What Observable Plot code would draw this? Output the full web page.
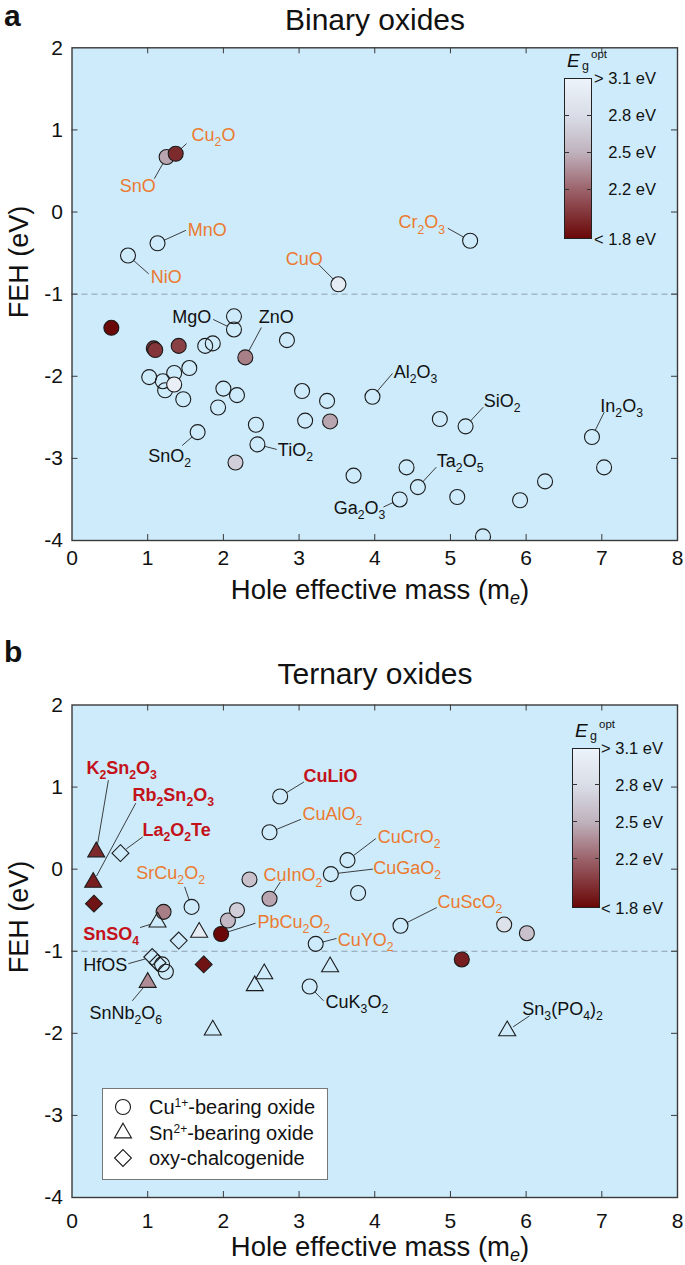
<!DOCTYPE html>
<html><head><meta charset="utf-8">
<script src="https://cdn.jsdelivr.net/npm/d3@7"></script>
<script src="https://cdn.jsdelivr.net/npm/@observablehq/plot@0.6"></script>
<style>
body{margin:0;background:#fff;font-family:"Liberation Sans",Arial,sans-serif;color:#111}
#fig{position:relative;width:685px;height:1265px;overflow:hidden}
.abs{position:absolute;white-space:nowrap;line-height:1}
</style></head><body><div id="fig"></div>
<script>
// ---------- shared scales / ticks ----------
const xTicks = [0,1,2,3,4,5,6,7,8];
const yTicks = [-4,-3,-2,-1,0,1,2];
const xInner = [1,2,3,4,5,6,7];
const yInner = [-3,-2,-1,0,1];
const egStops = [1.8,2.2,2.5,2.8,3.1];
const egColors = ["#6a0707","#9c646c","#bfb2bd","#d9dde7","#edf3fa"];
const egTickLabels = ["< 1.8 eV","2.2 eV","2.5 eV","2.8 eV","> 3.1 eV"];

// ---------- panel a: binary oxides ----------
const binMass = [1.25,1.37,1.13,0.74,3.52,5.26,0.52,1.08,1.10,1.41,1.02,1.20,1.23,1.35,1.35,1.55,1.47,1.76,1.86,2.14,2.14,2.29,2.84,2.00,2.18,1.93,3.04,3.37,3.08,3.41,1.66,2.43,2.45,2.16,3.72,3.97,4.86,5.20,6.87,7.03,4.42,4.57,4.33,5.09,5.92,6.25,5.43];
const binFEH  = [0.67,0.71,-0.38,-0.53,-0.88,-0.35,-1.41,-1.66,-1.68,-1.63,-2.01,-2.06,-2.17,-1.96,-2.10,-1.90,-2.28,-1.63,-1.60,-1.27,-1.43,-1.77,-1.56,-2.15,-2.23,-2.38,-2.18,-2.30,-2.54,-2.55,-2.68,-2.59,-2.83,-3.05,-3.21,-2.25,-2.52,-2.61,-2.74,-3.11,-3.11,-3.35,-3.50,-3.47,-3.51,-3.28,-3.95];
const binEg   = [2.45,1.95,null,null,3.0,null,1.8,2.0,2.0,2.05,null,null,null,null,3.05,null,null,null,null,null,null,2.3,null,null,null,null,null,null,null,2.45,null,null,null,2.7,null,null,null,null,null,null,null,null,null,null,null,null,null];
const binShape = binMass.map(() => "circle");

const binLabText   = ["Cu_2O","SnO","MnO","NiO","CuO","Cr_2O_3","MgO","ZnO","SnO_2","TiO_2","Al_2O_3","SiO_2","In_2O_3","Ta_2O_5","Ga_2O_3"];
const binLabX      = [1.58,0.87,1.53,1.04,3.07,4.93,1.84,2.70,1.29,2.72,4.25,5.44,6.98,4.82,4.14];
const binLabY      = [0.93,0.31,-0.225,-0.80,-0.57,-0.13,-1.285,-1.285,-2.97,-2.905,-1.955,-2.30,-2.36,-3.03,-3.61];
const binLabAnchor = ["start","middle","start","start","middle","end","end","middle","middle","start","start","start","start","start","end"];
const binLabKind   = ["o","o","o","o","o","o","k","k","k","k","k","k","k","k","k"];
const binLeadX     = [1.51,1.09,1.50,1.01,3.26,4.97,1.87,2.50,1.46,2.70,4.23,5.43,7.03,4.81,4.12];
const binLeadY     = [0.83,0.41,-0.225,-0.75,-0.64,-0.20,-1.31,-1.41,-2.84,-2.89,-1.97,-2.38,-2.44,-3.11,-3.59];
const binLeadTo    = [1,0,2,3,4,5,20,21,30,32,35,37,38,41,42];

// ---------- panel b: ternary oxides ----------
const terMass = [2.75,2.61,3.64,3.42,3.78,1.58,1.21,1.97,2.06,2.18,2.345,2.61,3.22,4.34,5.71,6.01,5.15,3.14,1.19,1.24, 0.32,0.28,1.13,1.68,1.00,2.54,2.415,1.86,3.41,5.75, 0.64,0.29,1.41,1.06,1.13,1.74];
const terFEH  = [0.885,0.45,0.11,-0.06,-0.29,-0.46,-0.52,-0.79,-0.625,-0.50,-0.125,-0.36,-0.91,-0.69,-0.675,-0.78,-1.10,-1.43,-1.16,-1.25, 0.21,-0.16,-0.645,-0.77,-1.38,-1.275,-1.42,-1.96,-1.19,-1.97, 0.195,-0.42,-0.87,-1.07,-1.14,-1.16];
const terEg   = [null,null,null,null,null,null,2.3,1.8,2.55,2.7,2.6,2.45,null,null,2.85,2.6,1.9,null,null,null, 1.95,1.9,null,3.0,2.35,null,null,null,null,null, null,1.85,null,null,null,1.85];
const terShape = ["circle","circle","circle","circle","circle","circle","circle","circle","circle","circle","circle","circle","circle","circle","circle","circle","circle","circle","circle","circle",
  "triangle","triangle","triangle","triangle","triangle","triangle","triangle","triangle","triangle","triangle",
  "diamond","diamond","diamond","diamond","diamond","diamond"];

const terLabText   = ["K_2Sn_2O_3","Rb_2Sn_2O_3","La_2O_2Te","SnSO_4","SrCu_2O_2","PbCu_2O_2","CuInO_2","CuLiO","CuAlO_2","CuCrO_2","CuGaO_2","CuScO_2","CuYO_2","HfOS","SnNb_2O_6","CuK_3O_2","Sn_3(PO_4)_2"];
const terLabX      = [0.19,0.80,0.93,0.15,0.85,2.45,2.53,3.06,3.045,4.04,3.98,4.83,3.51,0.73,0.71,3.35,5.95];
const terLabY      = [1.23,0.90,0.48,-0.795,-0.05,-0.65,-0.08,1.13,0.665,0.385,0.01,-0.405,-0.87,-1.17,-1.75,-1.62,-1.71];
const terLabAnchor = ["start","start","start","start","start","start","start","start","start","start","start","start","start","end","middle","start","start"];
const terLabKind   = ["r","r","r","r","o","o","o","r","o","o","o","o","o","k","k","k","k"];
const terLeadX     = [0.48,0.84,0.93,0.905,1.49,2.42,2.75,3.06,3.02,4.01,3.97,4.815,3.49,0.75,0.80,3.32,6.04];
const terLeadY     = [1.08,0.80,0.39,-0.71,-0.22,-0.66,-0.16,1.06,0.605,0.37,0.0,-0.47,-0.845,-1.15,-1.60,-1.60,-1.79];
const terLeadTo    = [20,21,30,22,5,7,11,0,1,2,3,13,12,33,24,17,29];

// ---------- styling ----------
const FONT = '"Liberation Sans", Arial, sans-serif';
const BG = "#cdebfb";
const AX = "#3a3a3a";
const ORANGE = "#eb7a30", RED = "#c4121a", BLACK = "#111";
const W = 685, ML = 71.5, MR = 8;
const SYM = {circle: "circle", triangle: "triangle", diamond: "diamond2"};
const RAD = {circle: 7.5, triangle: 6.3, diamond: 7.6};
const KIND = {o: {fill: ORANGE, w: "normal"}, r: {fill: RED, w: "bold"}, k: {fill: BLACK, w: "normal"}};

const fig = document.getElementById("fig");

function richify(svg, fs) {
  const NS = "http://www.w3.org/2000/svg";
  svg.querySelectorAll("text").forEach(t => {
    const s = t.textContent;
    if (!/[_^]/.test(s)) return;
    while (t.firstChild) t.removeChild(t.firstChild);
    let shift = 0;
    const re = /([_^])(\{[^}]*\}|.)|([^_^]+)/g;
    let m;
    while ((m = re.exec(s))) {
      const ts = document.createElementNS(NS, "tspan");
      let target, txt;
      if (m[3] !== undefined) { txt = m[3]; target = 0; }
      else {
        txt = m[2].replace(/[{}]/g, "");
        target = m[1] === "_" ? 0.28 : -0.42;
        ts.setAttribute("font-size", (fs * 0.68) + "px");
      }
      const dy = (target - shift) * fs;
      if (dy) ts.setAttribute("dy", dy + "px");
      shift = target;
      ts.textContent = txt;
      t.appendChild(ts);
    }
  });
}

function makePanel(cfg) {
  const innerH = cfg.height - cfg.mt - cfg.mb;
  const innerW = W - ML - MR;
  const pts = cfg.mass.map((m, i) => ({x: m, y: cfg.feh[i], eg: cfg.eg[i], s: cfg.shape[i]}));
  const labs = cfg.labText.map((t, i) => ({
    t, x: cfg.labX[i], y: cfg.labY[i], a: cfg.labAnchor[i], k: cfg.labKind[i],
    x1: cfg.leadX[i], y1: cfg.leadY[i], x2: pts[cfg.leadTo[i]].x, y2: pts[cfg.leadTo[i]].y
  }));
  const marks = [
    Plot.frame({fill: BG, stroke: null}),
    Plot.ruleY([-1], {stroke: "#8d9fae", strokeDasharray: "6,4", strokeWidth: 1}),
    Plot.tickX(xInner, {x: d => d, insetTop: innerH - 6, stroke: AX, strokeWidth: 1}),
    Plot.tickX(xInner, {x: d => d, insetBottom: innerH - 6, stroke: AX, strokeWidth: 1}),
    Plot.tickY(yInner, {y: d => d, insetRight: innerW - 6, stroke: AX, strokeWidth: 1}),
    Plot.tickY(yInner, {y: d => d, insetLeft: innerW - 6, stroke: AX, strokeWidth: 1}),
    Plot.axisX(xTicks, {anchor: "bottom", tickSize: 0, tickPadding: cfg.xpad, fontSize: 21, tickFormat: d => String(d), label: null, fill: "#111"}),
    Plot.axisY(yTicks, {anchor: "left", tickSize: 0, tickPadding: 9, fontSize: 21, tickFormat: d => String(d), label: null, fill: "#111"}),
    Plot.arrow(labs, {x1: "x1", y1: "y1", x2: "x2", y2: "y2", headLength: 0, insetEnd: 7.5, stroke: "#2a2a2a", strokeWidth: 0.9})
  ];
  for (const sh of ["circle", "triangle", "diamond"]) {
    const open = pts.filter(p => p.s === sh && p.eg == null);
    const full = pts.filter(p => p.s === sh && p.eg != null);
    if (open.length) marks.push(Plot.dot(open, {x: "x", y: "y", r: RAD[sh], symbol: SYM[sh], fill: "none", stroke: "#1b1b1b", strokeWidth: 1.1, clip: true}));
    if (full.length) marks.push(Plot.dot(full, {x: "x", y: "y", r: RAD[sh], symbol: SYM[sh], fill: "eg", stroke: "#1b1b1b", strokeWidth: 1.1, clip: true}));
  }
  for (const k of ["o", "r", "k"]) for (const a of ["start", "middle", "end"]) {
    const d = labs.filter(l => l.k === k && l.a === a);
    if (d.length) marks.push(Plot.text(d, {x: "x", y: "y", text: "t", textAnchor: a, fontSize: 18, fill: KIND[k].fill, fontWeight: KIND[k].w}));
  }
  marks.push(Plot.frame({stroke: AX, strokeWidth: 1.4}));
  const svg = Plot.plot({
    width: W, height: cfg.height,
    marginLeft: ML, marginRight: MR, marginTop: cfg.mt, marginBottom: cfg.mb,
    x: {domain: [0, 8]}, y: {domain: [-4, 2]},
    color: {type: "linear", domain: egStops, range: egColors, clamp: true, interpolate: d3.interpolateRgb},
    style: {fontFamily: FONT, background: "none", color: "#111", overflow: "visible"},
    marks
  });
  richify(svg, 18);
  svg.style.position = "absolute";
  svg.style.left = "0px";
  svg.style.top = cfg.top + "px";
  fig.appendChild(svg);
}

function text(html, {left, center, right, baseline, size, weight = "normal", style = "normal", color = "#111"}) {
  const d = document.createElement("div");
  d.className = "abs";
  d.innerHTML = html;
  d.style.fontSize = size + "px";
  d.style.fontWeight = weight;
  d.style.fontStyle = style;
  d.style.color = color;
  d.style.top = (baseline - 0.8465 * size) + "px";
  if (left != null) d.style.left = left + "px";
  if (center != null) { d.style.left = center + "px"; d.style.transform = "translateX(-50%)"; }
  if (right != null) { d.style.right = (W - right) + "px"; }
  fig.appendChild(d);
  return d;
}

function yLabel(cx, cy) {
  const d = document.createElement("div");
  d.className = "abs";
  d.textContent = "FEH (eV)";
  d.style.fontSize = "27px";
  d.style.left = cx + "px"; d.style.top = cy + "px";
  d.style.transform = "translate(-50%,-50%) rotate(-90deg)";
  fig.appendChild(d);
}

function colorbar(left, top, w, h, labelRight) {
  const bar = document.createElement("div");
  bar.className = "abs";
  const stops = egStops.map((v, i) => `${egColors[i]} ${((v - egStops[0]) / (egStops[egStops.length - 1] - egStops[0]) * 100).toFixed(2)}%`).join(",");
  Object.assign(bar.style, {left: left + "px", top: top + "px", width: w + "px", height: h + "px",
    background: `linear-gradient(to top, ${stops})`, border: "1px solid #222", boxSizing: "border-box"});
  fig.appendChild(bar);
  const lo = egStops[0], hi = egStops[egStops.length - 1];
  egStops.forEach((v, i) => {
    const y = top + (hi - v) / (hi - lo) * h;
    if (i > 0 && i < egStops.length - 1) {
      for (const x of [left, left + w - 5]) {
        const t = document.createElement("div");
        t.className = "abs";
        Object.assign(t.style, {left: x + "px", top: (y - 0.5) + "px", width: "5px", height: "1px", background: "#333"});
        fig.appendChild(t);
      }
    }
    text(egTickLabels[i], {right: labelRight, baseline: y + 6, size: 16.5});
  });
  text('<i>E</i>', {left: left + 3, baseline: top - 11, size: 19});
  text('g', {left: left + 18, baseline: top - 7, size: 12.5});
  text('opt', {left: left + 27, baseline: top - 19, size: 11.5});
}

function legend(left, top, w, h) {
  const box = document.createElement("div");
  box.className = "abs";
  Object.assign(box.style, {left: left + "px", top: top + "px", width: w + "px", height: h + "px",
    background: "#fff", border: "1px solid #777", boxSizing: "border-box"});
  fig.appendChild(box);
  const items = [["circle", "Cu<sup style='font-size:12px;vertical-align:7px'>1+</sup>-bearing oxide"],
                 ["triangle", "Sn<sup style='font-size:12px;vertical-align:7px'>2+</sup>-bearing oxide"],
                 ["diamond", "oxy-chalcogenide"]];
  const symType = {circle: d3.symbolCircle, triangle: d3.symbolTriangle, diamond: d3.symbolDiamond2};
  items.forEach(([sh, lab], i) => {
    const cy = top + 19 + i * 25.5;
    const s = document.createElementNS("http://www.w3.org/2000/svg", "svg");
    s.setAttribute("width", 24); s.setAttribute("height", 24);
    s.style.position = "absolute"; s.style.left = (left + 21 - 12) + "px"; s.style.top = (cy - 12) + "px";
    const p = document.createElementNS("http://www.w3.org/2000/svg", "path");
    p.setAttribute("d", d3.symbol(symType[sh], RAD[sh] * RAD[sh] * Math.PI)());
    p.setAttribute("transform", "translate(12,12)");
    p.setAttribute("fill", "none"); p.setAttribute("stroke", "#1b1b1b"); p.setAttribute("stroke-width", 1.1);
    s.appendChild(p);
    fig.appendChild(s);
    text(lab, {left: left + 47, baseline: cy + 7, size: 20});
  });
}

// ---------- panel a ----------
text("a", {left: 4, baseline: 26, size: 30, weight: "bold"});
text("Binary oxides", {center: 375, baseline: 30, size: 30});
makePanel({top: 0, height: 610, mt: 47.3, mb: 70, xpad: 10,
  mass: binMass, feh: binFEH, eg: binEg, shape: binShape,
  labText: binLabText, labX: binLabX, labY: binLabY, labAnchor: binLabAnchor, labKind: binLabKind,
  leadX: binLeadX, leadY: binLeadY, leadTo: binLeadTo});
yLabel(19, 262);
text("Hole effective mass (m<sub style='font-size:18px;font-style:italic;vertical-align:-5px'>e</sub>)", {center: 380, baseline: 599, size: 27.5});
colorbar(564, 78, 28, 161, 656);

// ---------- panel b ----------
text("b", {left: 4, baseline: 662, size: 30, weight: "bold"});
text("Ternary oxides", {center: 375, baseline: 684, size: 30});
makePanel({top: 650, height: 615, mt: 54.5, mb: 68, xpad: 16,
  mass: terMass, feh: terFEH, eg: terEg, shape: terShape,
  labText: terLabText, labX: terLabX, labY: terLabY, labAnchor: terLabAnchor, labKind: terLabKind,
  leadX: terLeadX, leadY: terLeadY, leadTo: terLeadTo});
yLabel(19, 917);
text("Hole effective mass (m<sub style='font-size:18px;font-style:italic;vertical-align:-5px'>e</sub>)", {center: 380, baseline: 1256, size: 27.5});
colorbar(572, 748, 28, 160, 663);
legend(102, 1088, 226, 92);
</script></body></html>
